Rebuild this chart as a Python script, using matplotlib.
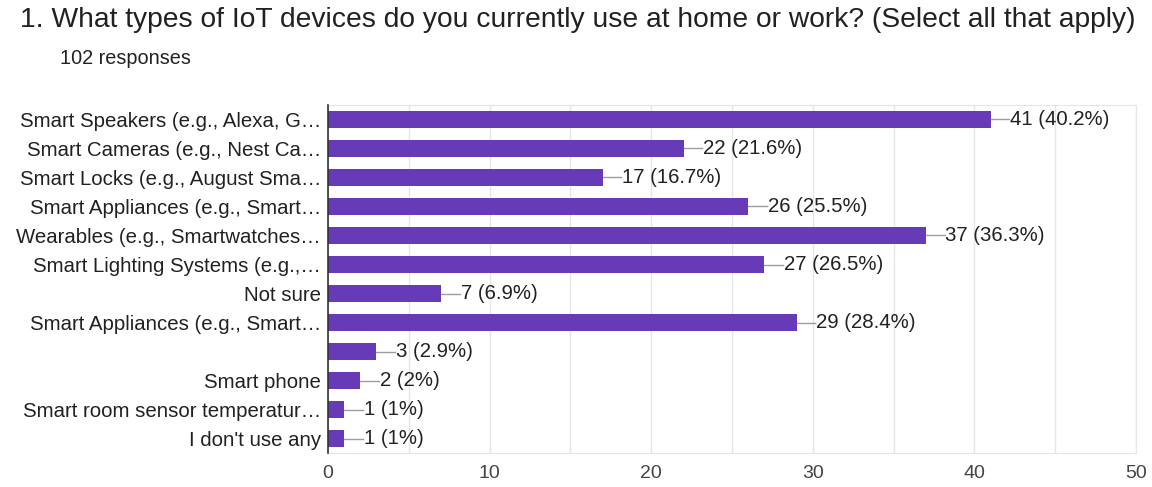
#!/usr/bin/env python3
"""Google Forms style horizontal bar chart: IoT devices survey question."""

import matplotlib
matplotlib.use("Agg")
import matplotlib.pyplot as plt
from matplotlib.ticker import MultipleLocator

# ---------------------------------------------------------------------------
# Data
# ---------------------------------------------------------------------------

TITLE = "1. What types of IoT devices do you currently use at home or work? (Select all that apply)"
SUBTITLE = "102 responses"

categories = [
    "Smart Speakers (e.g., Alexa, G\u2026",
    "Smart Cameras (e.g., Nest Ca\u2026",
    "Smart Locks (e.g., August Sma\u2026",
    "Smart Appliances (e.g., Smart\u2026",
    "Wearables (e.g., Smartwatches\u2026",
    "Smart Lighting Systems (e.g.,\u2026",
    "Not sure",
    "Smart Appliances (e.g., Smart\u2026",
    "",
    "Smart phone",
    "Smart room sensor temperatur\u2026",
    "I don't use any",
]
counts = [41, 22, 17, 26, 37, 27, 7, 29, 3, 2, 1, 1]
percents = ["40.2%", "21.6%", "16.7%", "25.5%", "36.3%", "26.5%",
            "6.9%", "28.4%", "2.9%", "2%", "1%", "1%"]
x_ticks = [0, 10, 20, 30, 40, 50]

BAR_COLOR = "#673ab7"
TEXT_COLOR = "#212121"
GRID_COLOR = "#e6e6e6"

plt.rcParams["font.family"] = ["Liberation Sans", "DejaVu Sans"]

fig = plt.figure(figsize=(11.52, 4.87), dpi=100)
ax = fig.add_axes([328 / 1152, 1 - 453 / 487, (1136 - 328) / 1152, (453 - 105) / 487])

ypos = list(range(len(categories)))
ax.barh(ypos, counts, height=0.6, color=BAR_COLOR, zorder=3)

for y, c, p in zip(ypos, counts, percents):
    ax.plot([c, c + 1.15], [y, y], color="#9e9e9e", linewidth=1, zorder=3)
    ax.text(c + 1.2, y, f"{c} ({p})", va="center", ha="left",
            fontsize=14.7, color=TEXT_COLOR, zorder=4)

ax.set_xlim(0, 50)
ax.set_ylim(len(categories) - 0.5, -0.5)
ax.set_yticks(ypos)
ax.set_yticklabels(categories, fontsize=14.7, color=TEXT_COLOR)
ax.set_xticks(x_ticks)
ax.set_xticklabels([str(t) for t in x_ticks], fontsize=14, color="#444444")
ax.xaxis.set_minor_locator(MultipleLocator(5))
ax.tick_params(axis="both", which="both", length=0)
ax.tick_params(axis="x", pad=9)
ax.tick_params(axis="y", pad=5)
ax.grid(axis="x", which="both", color=GRID_COLOR, linewidth=1, zorder=0)
for side in ["top", "right", "bottom"]:
    ax.spines[side].set_color(GRID_COLOR)
ax.spines["left"].set_color("#333333")
ax.spines["left"].set_linewidth(1.2)
ax.spines["left"].set_zorder(5)

fig.text(20 / 1152, 1 - 20 / 487, TITLE, fontsize=20.3, color=TEXT_COLOR,
         ha="left", va="center")
fig.text(60 / 1152, 1 - 58 / 487, SUBTITLE, fontsize=14.3, color=TEXT_COLOR,
         ha="left", va="center")

fig.savefig("out.png", dpi=100)
plt.close(fig)
